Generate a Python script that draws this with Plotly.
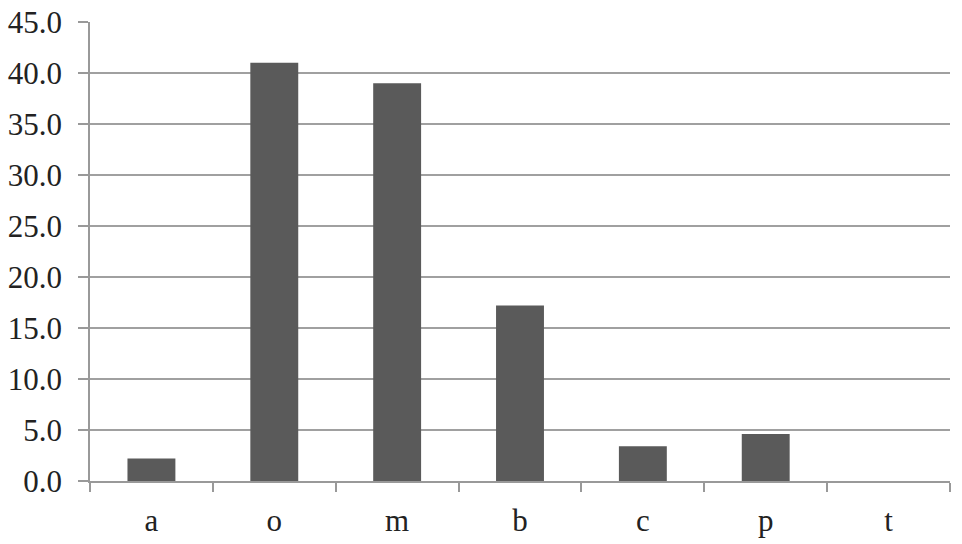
import plotly.graph_objects as go

categories = ["a", "o", "m", "b", "c", "p", "t"]
values = [2.2, 41.0, 39.0, 17.2, 3.4, 4.6, 0.0]
y_ticks = [0, 5, 10, 15, 20, 25, 30, 35, 40, 45]

fig = go.Figure(go.Bar(
    x=categories, y=values,
    marker=dict(color="#5a5a5a", line=dict(width=0)),
))

fig.update_layout(
    width=962, height=544,
    margin=dict(t=22, b=63, l=90, r=12),
    plot_bgcolor="white", paper_bgcolor="white",
    bargap=0.61,
    showlegend=False,
    font=dict(family="Liberation Serif", size=31, color="#222222"),
)
fig.update_xaxes(
    type="category", tickson="boundaries", automargin=False,
    ticks="outside", ticklen=9, tickcolor="#999999", tickwidth=1.5,
    showline=True, linecolor="#999999", linewidth=1.5,
    showgrid=False, tickfont=dict(size=31), ticklabelstandoff=11,
)
fig.update_yaxes(
    range=[0, 45], tickvals=y_ticks, tickformat=".1f", automargin=False,
    ticks="outside", ticklen=10, tickcolor="#999999", tickwidth=1.5,
    showline=True, linecolor="#999999", linewidth=1.5,
    showgrid=True, gridcolor="#a0a0a0", gridwidth=1.5,
    zeroline=False, tickfont=dict(size=31), ticklabelstandoff=10,
    ticklabeloverflow="allow",
)

# drop the browser's default 8px body margin so the figure sits at 0,0
fig.write_html(
    "out.html",
    config={"displayModeBar": False},
    post_script="document.body.style.margin='0';",
)
